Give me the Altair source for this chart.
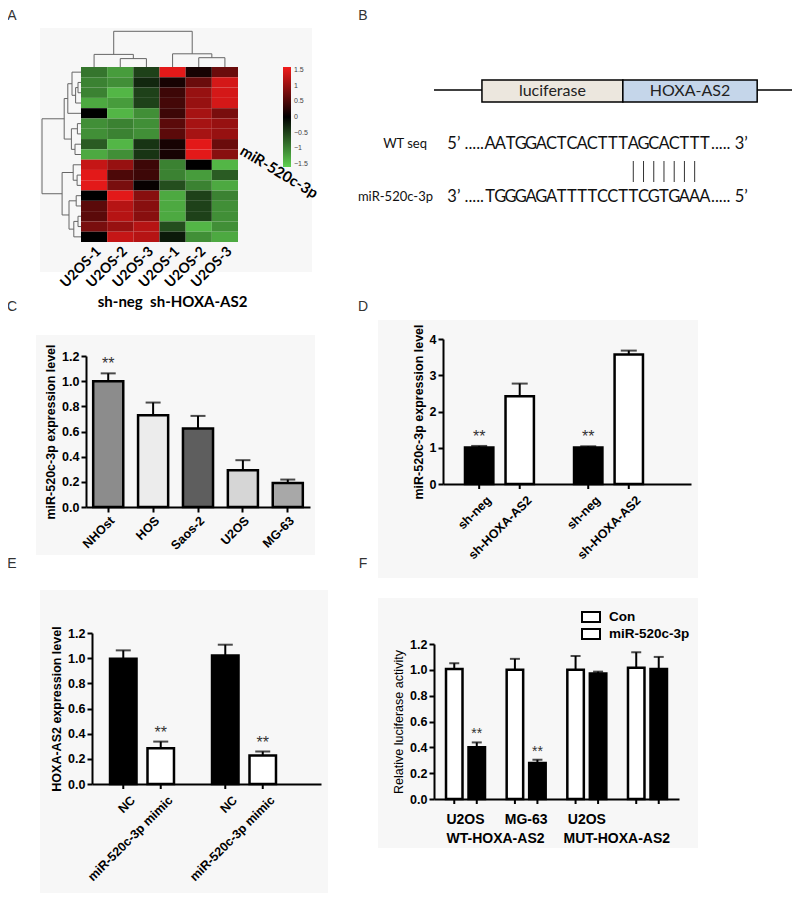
import altair as alt
import pandas as pd

W, H = 784, 885

# ---------------- data ----------------
# Panel A: heatmap (17 rows x 6 samples)
hm_keys = ["neg1", "neg2", "neg3", "hox1", "hox2", "hox3"]
hm_labels = ["U2OS-1", "U2OS-2", "U2OS-3", "U2OS-1", "U2OS-2", "U2OS-3"]
hm_groups = ["sh-neg", "sh-HOXA-AS2"]
hm_gene = "miR-520c-3p"
hm_neg1 = [-0.9, -1.0, -1.0, -1.3, 0.0, -1.1, -1.1, -0.7, -1.3, 1.3, 1.5, 1.5, 0.0, 0.6, 0.6, 0.8, 0.0]
hm_neg2 = [-1.2, -1.1, -1.4, -1.2, -1.4, -1.0, -1.0, -1.4, -1.1, 1.0, 0.5, 0.8, 1.5, 1.2, 1.2, 1.0, 1.3]
hm_neg3 = [-0.5, -0.3, -0.5, -0.5, -1.1, -1.1, -1.1, -0.4, -0.4, 0.4, 0.4, 0.05, 0.9, 0.9, 0.9, 1.2, 1.2]
hm_hox1 = [1.5, 0.15, 0.4, 0.45, 0.4, 0.6, 0.6, 0.15, 0.15, -1.0, -1.0, -0.6, -1.3, -1.3, -1.3, -0.6, -0.2]
hm_hox2 = [0.15, 0.7, 1.0, 1.0, 1.1, 1.1, 1.1, 1.5, 1.5, 0.0, -1.2, -1.0, -0.5, -0.5, -0.5, -1.4, -1.1]
hm_hox3 = [0.7, 1.4, 1.4, 1.4, 0.8, 1.0, 1.0, 0.7, 0.9, -1.4, -0.7, -1.3, -1.0, -1.1, -1.1, -1.1, -1.3]
cbar_ticks = [1.5, 1, 0.5, 0, -0.5, -1, -1.5]
# dendrograms (linkage: left child, right child, merge height); leaves first, then new nodes
row_link_a = [1, 17, 0, 19, 5, 7, 21, 20, 10, 9, 12, 14, 28, 27, 26, 24]
row_link_b = [2, 3, 18, 4, 6, 8, 22, 23, 11, 25, 13, 15, 16, 29, 30, 31]
row_link_h = [1.0, 1.8, 3.0, 4.4, 1.2, 2.0, 3.2, 5.6, 1.3, 2.6, 1.6, 1.0, 2.4, 4.0, 6.3, 13.0]
col_link_a = [1, 0, 4, 3, 7]
col_link_b = [2, 6, 5, 8, 9]
col_link_h = [2.8, 4.2, 3.1, 4.4, 11.9]

# Panel B: construct & seed pairing
construct_parts = ["luciferase", "HOXA-AS2"]
construct_start = [13.1, 51.6]
construct_end = [51.6, 88.3]
backbone = [0, 100]
seq_names = ["WT seq", "miR-520c-3p"]
wt_seq = "AATGGACTCACTTTAGCACTTT"
mir_seq = "TGGGAGATTTTCCTTCGTGAAA"
wt_ends = ["5\u2019 .....", "..... 3\u2019"]
mir_ends = ["3\u2019 .....", "..... 5\u2019"]
pair_idx = [14, 15, 16, 17, 18, 19, 20]

# Panel C
cells_c = ["NHOst", "HOS", "Saos-2", "U2OS", "MG-63"]
mean_c = [1.00, 0.73, 0.624, 0.292, 0.191]
err_c = [0.062, 0.10, 0.10, 0.08, 0.027]
star_c = ["**", "", "", "", ""]
yt_c = [0.0, 0.2, 0.4, 0.6, 0.8, 1.0, 1.2]

# Panel D
groups_d = ["1", "2"]
conds_d = ["sh-neg", "sh-HOXA-AS2"]
mean_d = [1.01, 2.42, 1.01, 3.57]
err_d = [0.04, 0.35, 0.03, 0.11]
star_d = ["**", "", "**", ""]
yt_d = [0, 1, 2, 3, 4]

# Panel E
groups_e = ["1", "2"]
conds_e = ["NC", "miR-520c-3p mimic"]
mean_e = [0.995, 0.284, 1.022, 0.226]
err_e = [0.067, 0.053, 0.085, 0.032]
star_e = ["", "**", "", "**"]
yt_e = [0.0, 0.2, 0.4, 0.6, 0.8, 1.0, 1.2]

# Panel F
groups_f = ["g1", "g2", "g3", "g4"]
conds_f = ["Con", "miR-520c-3p"]
mean_f = [1.007, 0.40, 1.0, 0.278, 1.0, 0.971, 1.017, 1.007]
err_f = [0.044, 0.038, 0.085, 0.026, 0.107, 0.015, 0.119, 0.093]
star_f = ["", "**", "", "**", "", "", "", ""]
cell_f = ["U2OS", "MG-63", "U2OS", ""]
construct_f = ["WT-HOXA-AS2", "", "MUT-HOXA-AS2", ""]
yt_f = [0.0, 0.2, 0.4, 0.6, 0.8, 1.0, 1.2]

panel_letters = ["A", "B", "C", "D", "E", "F"]

# ---------------- helpers ----------------
ARIAL = "Liberation Sans"
CAL = "Lato"
AX = dict(domainColor="black", domainWidth=2, tickColor="black", tickWidth=2, tickSize=5,
          labelFont=ARIAL, labelFontWeight="bold", labelFontSize=12.5, labelColor="black",
          titleFont=ARIAL, titleFontWeight="bold", titleFontSize=12.5, titleColor="black", grid=False, zindex=1)


def note(text, x, y, **kw):
    return alt.Chart(pd.DataFrame({"t": [text]})).mark_text(**kw).encode(
        text="t:N", x=alt.value(x), y=alt.value(y))


def panel_bg(x1, x2, y1, y2):
    return alt.Chart(pd.DataFrame({"k": [0]})).mark_rect(fill="#f7f7f7").encode(
        x=alt.value(x1), x2=alt.value(x2), y=alt.value(y1), y2=alt.value(y2))


def dendro(n, la, lb, lh):
    pos = {i: float(i) for i in range(n)}
    hgt = {i: 0.0 for i in range(n)}
    segs = []
    for k, (a, b, h) in enumerate(zip(la, lb, lh)):
        segs.append((pos[a], hgt[a], pos[a], h))
        segs.append((pos[b], hgt[b], pos[b], h))
        segs.append((pos[a], h, pos[b], h))
        pos[n + k] = (pos[a] + pos[b]) / 2
        hgt[n + k] = h
    return pd.DataFrame(segs, columns=["p1", "h1", "p2", "h2"])


layers = []

# backgrounds
layers += [panel_bg(32, 304, 20, 264), panel_bg(28, 307, 327, 547), panel_bg(370, 690, 312, 570),
           panel_bg(32, 320, 582, 885), panel_bg(370, 690, 590, 840)]

# ---------------- Panel A ----------------
hm_cols = [hm_neg1, hm_neg2, hm_neg3, hm_hox1, hm_hox2, hm_hox3]
hm_df = pd.DataFrame([{"key": k, "row": r, "value": v}
                      for k, col in zip(hm_keys, hm_cols) for r, v in enumerate(col)])
lab_expr = ("[" + ",".join(f"'{l}'" for l in hm_labels) + "][indexof([" +
            ",".join(f"'{k}'" for k in hm_keys) + "], datum.value)]")
hx = alt.X("key:N", scale=alt.Scale(domain=hm_keys, range=[73, 230], paddingInner=0, paddingOuter=0),
           axis=alt.Axis(orient="bottom", offset=234 - H, labelExpr=lab_expr, labelAngle=-45,
                         labelFont=CAL, labelFontWeight="bold", labelFontSize=14, labelColor="black",
                         ticks=False, domain=False, title=None, labelPadding=2, labelOverlap=False,
                         grid=False, zindex=1))
heat = alt.Chart(hm_df).mark_rect().encode(
    x=hx,
    y=alt.Y("row:O", scale=alt.Scale(range=[59, 234], paddingInner=0, paddingOuter=0), axis=None),
    color=alt.Color("value:Q",
                    scale=alt.Scale(domain=[-1.6, 0, 1.6], range=["#5fd050", "#000000", "#f21b1b"], interpolate="rgb"),
                    legend=alt.Legend(orient="none", legendX=275, legendY=59, direction="vertical",
                                      gradientLength=100, gradientThickness=8, title=None, values=cbar_ticks,
                                      format=".1~f", labelFontSize=7, labelColor="#444", labelFont=ARIAL,
                                      labelOffset=3, gradientStrokeWidth=0, padding=0, labelOverlap=False)))
grp_df = pd.DataFrame({"key": ["neg2", "hox2"], "label": hm_groups})
grp_txt = alt.Chart(grp_df).mark_text(font=CAL, fontWeight="bold", fontSize=15, color="black").encode(
    x=hx, y=alt.value(294), text="label:N")
layers.append(alt.layer(heat, grp_txt))

col_seg = dendro(6, col_link_a, col_link_b, col_link_h)
layers.append(alt.Chart(col_seg).mark_rule(color="#666", strokeWidth=1).encode(
    x=alt.X("p1:Q", scale=alt.Scale(domain=[-0.5, 5.5], range=[73, 230], nice=False, zero=False), axis=None),
    x2="p2:Q",
    y=alt.Y("h1:Q", scale=alt.Scale(domain=[0, 12], range=[59, 23], nice=False, zero=False), axis=None),
    y2="h2:Q"))
row_seg = dendro(17, row_link_a, row_link_b, row_link_h)
layers.append(alt.Chart(row_seg).mark_rule(color="#666", strokeWidth=1).encode(
    y=alt.Y("p1:Q", scale=alt.Scale(domain=[-0.5, 16.5], range=[59, 234], nice=False, zero=False), axis=None),
    y2="p2:Q",
    x=alt.X("h1:Q", scale=alt.Scale(domain=[0, 13], range=[73, 34], nice=False, zero=False), axis=None),
    x2="h2:Q"))
layers.append(note(hm_gene, 271, 164, angle=31, font=CAL, fontWeight="bold", fontSize=15, color="black"))

# ---------------- Panel B ----------------
bx = alt.Scale(domain=[0, 100], range=[426, 792], nice=False, zero=False)
bb_df = pd.DataFrame({"start": [backbone[0]], "end": [backbone[1]]})
cons_df = pd.DataFrame({"part": construct_parts, "start": construct_start, "end": construct_end})
cons_df["mid"] = (cons_df["start"] + cons_df["end"]) / 2
b_line = alt.Chart(bb_df).mark_rule(color="black", strokeWidth=1.5).encode(
    x=alt.X("start:Q", scale=bx, axis=None), x2="end:Q", y=alt.value(82))
b_box = alt.Chart(cons_df).mark_rect(stroke="black", strokeWidth=1.5).encode(
    x=alt.X("start:Q", scale=bx, axis=None), x2="end:Q", y=alt.value(72), y2=alt.value(94),
    fill=alt.Fill("part:N", scale=alt.Scale(domain=construct_parts, range=["#ece7de", "#c5d6ea"]), legend=None))
b_txt = alt.Chart(cons_df).mark_text(font=CAL, fontSize=16, color="#222").encode(
    x=alt.X("mid:Q", scale=bx, axis=None), y=alt.value(83), text="part:N")
layers.append(alt.layer(b_line, b_box, b_txt))

sx = alt.Scale(domain=[-0.5, 21.5], range=[477, 702], nice=False, zero=False)
wt_df = pd.DataFrame({"i": list(range(len(wt_seq))), "ch": list(wt_seq)})
mir_df = pd.DataFrame({"i": list(range(len(mir_seq))), "ch": list(mir_seq)})
ends_df = pd.DataFrame({"i": [-0.5, 21.5], "wt": wt_ends, "mir": mir_ends})
pair_df = pd.DataFrame({"i": pair_idx})
seq_layers = []
for df_, yy in [(wt_df, 136), (mir_df, 189)]:
    seq_layers.append(alt.Chart(df_).mark_text(font=CAL, fontSize=16.5, color="#111").encode(
        x=alt.X("i:Q", scale=sx, axis=None), y=alt.value(yy), text="ch:N"))
for fld, yy in [("wt", 136), ("mir", 189)]:
    seq_layers.append(alt.Chart(ends_df.iloc[[0]]).mark_text(font=CAL, fontSize=16.5, color="#111", align="right", dx=-1).encode(
        x=alt.X("i:Q", scale=sx, axis=None), y=alt.value(yy), text=f"{fld}:N"))
    seq_layers.append(alt.Chart(ends_df.iloc[[1]]).mark_text(font=CAL, fontSize=16.5, color="#111", align="left", dx=1).encode(
        x=alt.X("i:Q", scale=sx, axis=None), y=alt.value(yy), text=f"{fld}:N"))
seq_layers.append(alt.Chart(pair_df).mark_rule(color="#333", strokeWidth=1).encode(
    x=alt.X("i:Q", scale=sx, axis=None), y=alt.value(153), y2=alt.value(174)))
layers.append(alt.layer(*seq_layers))
layers.append(note(seq_names[0], 419, 136, align="right", font=CAL, fontSize=13, color="#111"))
layers.append(note(seq_names[1], 425, 189, align="right", font=CAL, fontSize=13, color="#111"))

# ---------------- Panel C ----------------
c_df = pd.DataFrame({"cell": cells_c, "mean": mean_c, "err": err_c, "star": star_c})
c_df["upper"] = c_df["mean"] + c_df["err"]
cx = alt.X("cell:N", scale=alt.Scale(domain=cells_c, range=[78, 302], paddingInner=0.33, paddingOuter=0.16),
           axis=alt.Axis(orient="bottom", offset=499 - H, title=None, labelAngle=-45, labelOverlap=False,
                         **{**AX, "labelFontSize": 12.5}))


def cy(field):
    return alt.Y(f"{field}:Q", stack=None, scale=alt.Scale(domain=[0, 1.2], range=[499, 348], nice=False),
                 axis=alt.Axis(orient="left", offset=-78, values=yt_c, format=".1f",
                               title="miR-520c-3p expression level", **AX))


c_fill = ["#8c8c8c", "#ececec", "#5e5e5e", "#d6d6d6", "#a8a8a8"]
cb = alt.Chart(c_df)
layers.append(alt.layer(
    cb.mark_bar(stroke="black", strokeWidth=2.5).encode(
        x=cx, y=cy("mean"), fill=alt.Fill("cell:N", scale=alt.Scale(domain=cells_c, range=c_fill), legend=None)),
    cb.mark_rule(color="black", strokeWidth=2).encode(x=cx, y=cy("mean"), y2="upper:Q"),
    cb.mark_tick(color="black", thickness=2, size=15).encode(x=cx, y=cy("upper")),
    cb.mark_text(font=ARIAL, fontSize=16, color="#333", baseline="alphabetic", dy=-4).encode(
        x=cx, y=cy("upper"), text="star:N"),
))


# ---------------- grouped panels ----------------
def grouped(df, groups, conds, fills, x_range, pads, off_pad, y_dom, y_range, y_vals, y_fmt, y_title,
            y_axis_x, x_axis_y, cap, star_size, title_weight="bold", title_size=12.5, labels=True, label_size=12.5):
    base = alt.Chart(df)
    x_enc = alt.X("group:N", scale=alt.Scale(domain=groups, range=x_range, paddingInner=pads[0],
                                             paddingOuter=pads[1], align=pads[2]),
                  axis=alt.Axis(orient="bottom", offset=x_axis_y - H, ticks=False, labels=False, title=None,
                                domainColor="black", domainWidth=2, grid=False, zindex=1))
    xo = alt.XOffset("cond:N", scale=alt.Scale(domain=conds, paddingInner=off_pad, paddingOuter=0))

    def y_enc(field):
        return alt.Y(f"{field}:Q", stack=None,
                     scale=alt.Scale(domain=y_dom, range=y_range, nice=False),
                     axis=alt.Axis(orient="left", offset=-y_axis_x, values=y_vals, format=y_fmt, title=y_title,
                                   **{**AX, "titleFontWeight": title_weight, "titleFontSize": title_size}))

    ls = [
        base.mark_bar(stroke="black", strokeWidth=2.5).encode(
            x=x_enc, xOffset=xo, y=y_enc("mean"),
            fill=alt.Fill("cond:N", scale=alt.Scale(domain=conds, range=fills), legend=None)),
        base.mark_rule(color="black", strokeWidth=2).encode(x=x_enc, xOffset=xo, y=y_enc("mean"), y2="upper:Q"),
        base.mark_tick(color="black", thickness=2, size=cap).encode(x=x_enc, xOffset=xo, y=y_enc("upper")),
        base.mark_text(font=ARIAL, fontSize=star_size, color="#333", baseline="alphabetic", dy=-4).encode(
            x=x_enc, xOffset=xo, y=y_enc("upper"), text="star:N"),
        base.mark_rule(color="black", strokeWidth=2).encode(
            x=x_enc, xOffset=xo, y=alt.value(x_axis_y), y2=alt.value(x_axis_y + 5)),
    ]
    if labels:
        ls.append(base.mark_text(angle=315, align="right", baseline="top", dx=4, dy=4, font=ARIAL,
                                 fontWeight="bold", fontSize=label_size, color="black").encode(
            x=x_enc, xOffset=xo, y=alt.value(x_axis_y + 10), text="cond:N"))
    return alt.layer(*ls), x_enc


def mkdf(groups, conds, mean, err, star):
    rows = []
    k = 0
    for g in groups:
        for c in conds:
            rows.append({"group": g, "cond": c, "mean": mean[k], "err": err[k], "star": star[k]})
            k += 1
    d = pd.DataFrame(rows)
    d["upper"] = d["mean"] + d["err"]
    return d


d_df = mkdf(groups_d, conds_d, mean_d, err_d, star_d)
pd_, _ = grouped(d_df, groups_d, conds_d, ["black", "white"], [435, 683], (0.368, 0.321, 0.314), 0.3,
                 [0, 4], [476, 331], yt_d, "d", "miR-520c-3p expression level", 435, 476, 16, 16)
layers.append(pd_)

e_df = mkdf(groups_e, conds_e, mean_e, err_e, star_e)
pe_, _ = grouped(e_df, groups_e, conds_e, ["black", "white"], [84, 313], (0.373, 0.309, 0.286), 0.293,
                 [0, 1.2], [776, 625], yt_e, ".1f", "HOXA-AS2 expression level", 84, 776, 15, 16)
layers.append(pe_)

f_df = mkdf(groups_f, conds_f, mean_f, err_f, star_f)
pf_, fx = grouped(f_df, groups_f, conds_f, ["white", "black"], [426, 671], (0.357, 0.198, 0.5), 0.267,
                  [0, 1.2], [791, 636], yt_f, ".1f", "Relative luciferase activity", 426, 791, 10, 14,
                  title_weight="normal", title_size=12.5, labels=False)
fg_df = pd.DataFrame({"group": groups_f, "cell": cell_f, "construct": construct_f})
f_lab1 = alt.Chart(fg_df).mark_text(font=ARIAL, fontWeight="bold", fontSize=14, color="black").encode(
    x=fx, y=alt.value(812), text="cell:N")
f_lab2 = alt.Chart(fg_df).mark_text(font=ARIAL, fontWeight="bold", fontSize=14, color="black", dx=30).encode(
    x=fx, y=alt.value(831), text="construct:N")
layers.append(alt.layer(pf_, f_lab1, f_lab2))

leg_df = pd.DataFrame({"label": conds_f})
leg_y = alt.Y("label:N", scale=alt.Scale(domain=conds_f, range=[609, 626], padding=0), axis=None)
layers.append(alt.layer(
    alt.Chart(leg_df).mark_point(shape="M-1,-0.55L1,-0.55L1,0.55L-1,0.55Z", size=324, filled=True,
                                 fill="white", stroke="black", strokeWidth=2, opacity=1).encode(
        x=alt.value(583), y=leg_y),
    alt.Chart(leg_df).mark_text(align="left", font=ARIAL, fontWeight="bold", fontSize=13.5, color="black").encode(
        x=alt.value(601), y=leg_y, text="label:N"),
))

# panel letters
for letter, (lx, ly) in zip(panel_letters, [(4, 8), (355, 8), (4, 299), (355, 299), (4, 556), (355, 556)]):
    layers.append(note(letter, lx, ly, font=ARIAL, fontSize=14, color="#333"))

chart = alt.layer(*layers).resolve_scale(
    x="independent", y="independent", xOffset="independent", fill="independent", color="independent"
).properties(width=W, height=H, autosize=alt.AutoSizeParams(type="none"), padding=0).configure_view(stroke=None)

chart.save("out.html", embed_options={"renderer": "svg", "actions": False})
